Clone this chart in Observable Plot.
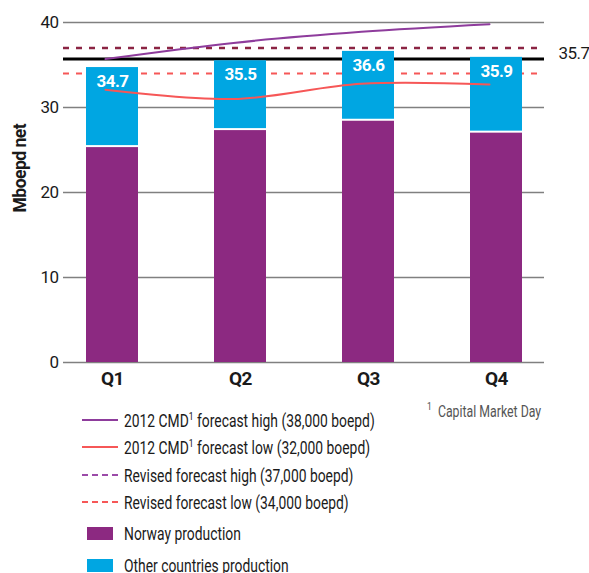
<!DOCTYPE html>
<html>
<head>
<meta charset="utf-8">
<script src="https://cdn.jsdelivr.net/npm/d3@7"></script>
<script src="https://cdn.jsdelivr.net/npm/@observablehq/plot@0.6"></script>
<style>
  html, body { margin: 0; padding: 0; background: #fff; }
  #wrap {
    position: relative; width: 589px; height: 573px; overflow: hidden;
    font-family: Roboto, "Liberation Sans", sans-serif;
    color: #1a1a1a;
  }
  #chart svg { display: block; }
  #chart svg text { letter-spacing: -0.5px; }
  .leg { position: absolute; left: 0; top: 0; font-size: 18px; white-space: nowrap; }
  .row { position: absolute; left: 82px; height: 20px; display: flex; align-items: center; }
  .sw { width: 36px; height: 0; margin-right: 6px; }
  .box { width: 26px; height: 13px; margin: 0 11px 0 5px; }
  .txt { display: inline-block; transform: scaleX(0.77); transform-origin: 0 50%; }
  sup { font-size: 11px; vertical-align: 7px; line-height: 0; }
  .note { position: absolute; left: 427px; top: 402px; font-size: 16px; color: #555; white-space: nowrap;
          transform: scaleX(0.77); transform-origin: 0 50%; }
</style>
</head>
<body>
<div id="wrap">
  <div id="chart"></div>
  <div class="leg" id="legend"></div>
  <div class="note"><sup>1</sup>&nbsp; Capital Market Day</div>
</div>
<script>
// Quarterly production, thousand barrels of oil equivalent per day
const quarters = ["Q1", "Q2", "Q3", "Q4"];
const norway = [25.4, 27.4, 28.5, 27.1];
const totals = [34.7, 35.5, 36.6, 35.9];

// Forecast curves from the 2012 Capital Market Day
const cmdHigh = [35.7, 37.6, 38.9, 39.8];
const cmdLow = [32.1, 31.0, 32.8, 32.7];

// Revised full-year forecasts and the actual average
const revisedHigh = [37];
const revisedLow = [34];
const average = [35.7];

const yTicks = [0, 10, 20, 30, 40];

const colors = {
  norway: "#8c2981",
  other: "#00a6e2",
  cmdHigh: "#8e3c9c",
  cmdLow: "#f65757",
  revHigh: "#8b2443",
  revLow: "#f65757"
};

const rows = quarters.map((q, i) => ({
  q, norway: norway[i], total: totals[i], high: cmdHigh[i], low: cmdLow[i]
}));

const font = 'Roboto, "Liberation Sans", sans-serif';

const chart = Plot.plot({
  width: 589,
  height: 395,
  marginLeft: 63,
  marginRight: 45,
  marginTop: 22,
  marginBottom: 33,
  style: { fontFamily: font, background: "#fff", color: "#1a1a1a" },
  x: { domain: quarters, paddingInner: 0.595, paddingOuter: 0.17, label: null },
  y: { domain: [0, 40], label: null },
  marks: [
    Plot.ruleY(yTicks, { stroke: "#808080", strokeWidth: 1.3 }),
    Plot.ruleY(revisedHigh, { stroke: colors.revHigh, strokeWidth: 2.5, strokeDasharray: "6,7" }),
    Plot.ruleY(revisedLow, { stroke: colors.revLow, strokeWidth: 2.2, strokeDasharray: "6,7" }),
    Plot.ruleY(average, { stroke: "#000", strokeWidth: 3 }),
    Plot.barY(rows, { x: "q", y1: 0, y2: "norway", fill: colors.norway, insetTop: 1 }),
    Plot.barY(rows, { x: "q", y1: "norway", y2: "total", fill: colors.other, insetBottom: 1 }),
    Plot.text(rows, {
      x: "q", y: "total", text: d => d.total.toFixed(1), dy: 14,
      fill: "#fff", fontSize: 17, fontWeight: "bold"
    }),
    Plot.line(rows, { x: "q", y: "high", dx: -7, stroke: colors.cmdHigh, strokeWidth: 2, curve: "catmull-rom" }),
    Plot.line(rows, { x: "q", y: "low", dx: -7, stroke: colors.cmdLow, strokeWidth: 2, curve: "catmull-rom" }),
    Plot.text(average, {
      y: d => d, text: d => d.toFixed(1), frameAnchor: "right", textAnchor: "start",
      dx: 14, dy: -6, fontSize: 17, fill: "#1a1a1a"
    }),
    Plot.axisY(yTicks, { tickSize: 0, tickPadding: 5, fontSize: 17, fill: "#1a1a1a" }),
    Plot.axisX({ tickSize: 0, tickPadding: 9, fontSize: 19, fontWeight: "bold", fill: "#1a1a1a" }),
    Plot.text(["Mboepd net"], {
      frameAnchor: "left", dx: -43, dy: 20, rotate: -90, fontSize: 17.5, fontWeight: "bold", fill: "#1a1a1a"
    })
  ]
});
document.getElementById("chart").appendChild(chart);

// Legend below the plot
const legendItems = [
  { kind: "line", color: colors.cmdHigh, html: "2012 CMD<sup>1</sup> forecast high (38,000 boepd)", top: 410 },
  { kind: "line", color: colors.cmdLow, html: "2012 CMD<sup>1</sup> forecast low (32,000 boepd)", top: 437 },
  { kind: "dash", color: "#9b4aa8", html: "Revised forecast high (37,000 boepd)", top: 465 },
  { kind: "dash", color: colors.revLow, html: "Revised forecast low (34,000 boepd)", top: 492 },
  { kind: "box", color: colors.norway, html: "Norway production", top: 523 },
  { kind: "box", color: colors.other, html: "Other countries production", top: 555 }
];
const legend = d3.select("#legend");
for (const item of legendItems) {
  const row = legend.append("div").attr("class", "row").style("top", item.top + "px");
  if (item.kind === "box") {
    row.append("div").attr("class", "box").style("background", item.color);
  } else {
    row.append("div").attr("class", "sw")
      .style("border-top", item.kind === "line" ? `2px solid ${item.color}` : `2px dashed ${item.color}`);
  }
  row.append("span").attr("class", "txt").html(item.html);
}
</script>
</body>
</html>
